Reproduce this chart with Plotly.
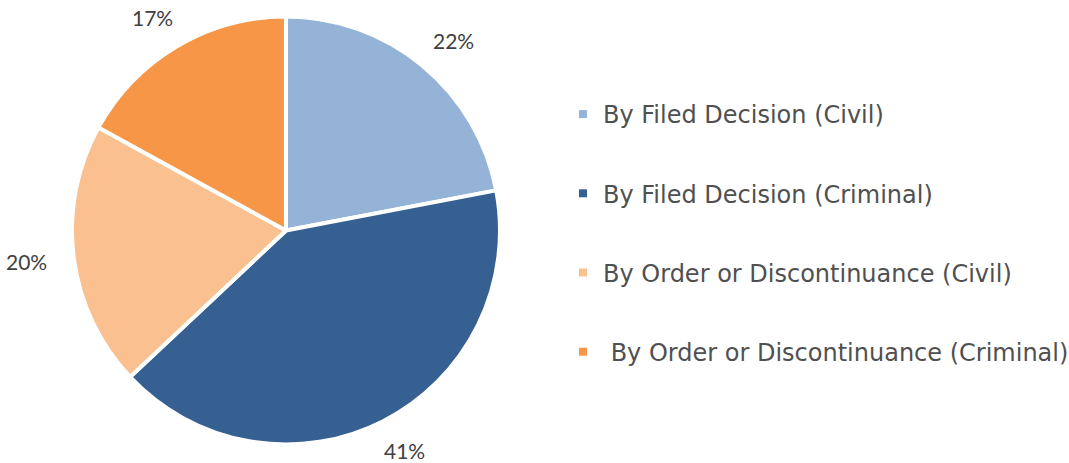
import math
import plotly.graph_objects as go

categories = [
    "By Filed Decision (Civil)",
    "By Filed Decision (Criminal)",
    "By Order or Discontinuance (Civil)",
    "\u00a0By Order or Discontinuance (Criminal)",
]
values = [22, 41, 20, 17]
colors = ["#95B3D7", "#366092", "#FAC090", "#F79646"]

W, H = 1069, 463
cx_px, cy_px, r_px = 286, 230.5, 214
anchor_r = 242          # radius where the label box touches
box_w, box_h = 40, 10   # approximate label box offsets

fig = go.Figure()
fig.add_trace(go.Pie(
    labels=categories, values=values, sort=False, direction="clockwise",
    rotation=0, marker=dict(colors=colors, line=dict(color="white", width=4)),
    textinfo="none", hoverinfo="label+percent", showlegend=False,
    domain=dict(x=[(cx_px - r_px) / W, (cx_px + r_px) / W],
                y=[(H - cy_px - r_px) / H, (H - cy_px + r_px) / H]),
))

for cat, col in zip(categories, colors):
    fig.add_trace(go.Scatter(
        x=[None], y=[None], mode="markers", name=cat, legendgroup=cat,
        marker=dict(symbol="square", size=8, color=col),
    ))

total = sum(values)
cum = 0
for v in values:
    mid = (cum + v / 2) / total * 2 * math.pi
    cum += v
    s, c = math.sin(mid), math.cos(mid)
    px = cx_px + anchor_r * s + box_w / 2 * s
    py_up = (H - cy_px) + anchor_r * c + box_h / 2 * c
    fig.add_annotation(x=px / W, y=py_up / H, xref="paper", yref="paper",
                       text=f"{round(v / total * 100)}%", showarrow=False,
                       xanchor="center", yanchor="middle",
                       font=dict(family="Lato", size=21, color="#404040"))

fig.update_layout(
    width=W, height=H,
    margin=dict(l=0, r=0, t=0, b=0, autoexpand=False),
    paper_bgcolor="white", plot_bgcolor="white",
    xaxis=dict(visible=False), yaxis=dict(visible=False),
    legend=dict(x=563 / W, y=(H - 233) / H, xanchor="left", yanchor="middle",
                traceorder="grouped", tracegroupgap=45,
                font=dict(family="DejaVu Sans", size=24, color="#505050"),
                bgcolor="rgba(0,0,0,0)"),
)
fig.write_html(
    "out.html", config={"displayModeBar": False},
    post_script=("document.body.style.margin='0px';"
                 "document.body.style.overflow='hidden';"
                 "document.documentElement.style.overflow='hidden';"))
